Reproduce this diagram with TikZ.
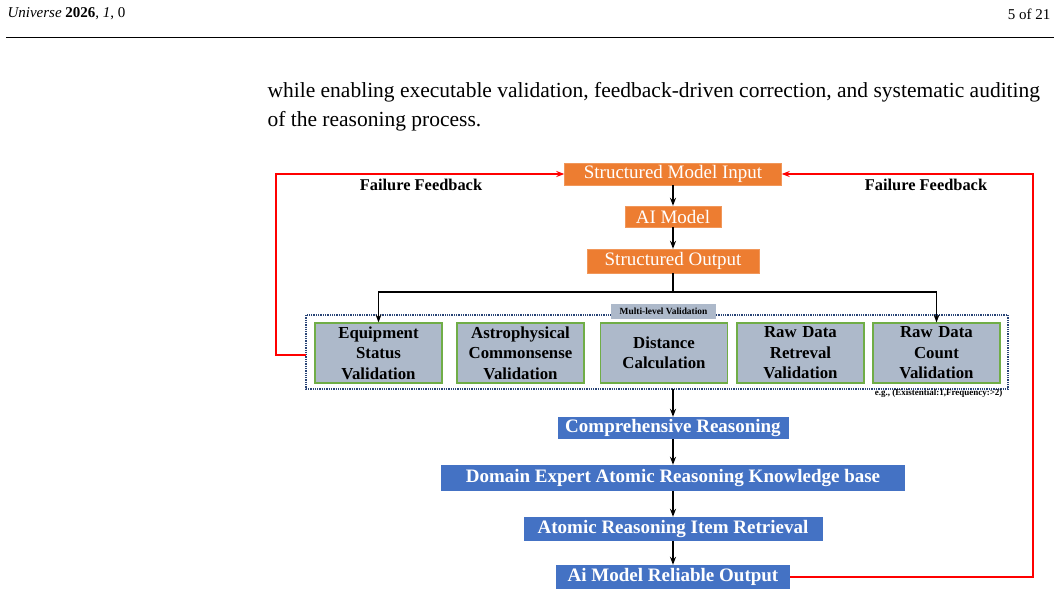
\documentclass[tikz,border=0pt]{standalone}
\usepackage{fontspec}
\setmainfont{Liberation Serif}
\usetikzlibrary{arrows.meta,positioning}

\definecolor{boxorange}{HTML}{ED7D31}
\definecolor{boxblue}{HTML}{4472C4}
\definecolor{boxgray}{HTML}{ADB9CA}
\definecolor{boxgreen}{HTML}{70AD47}

\tikzset{
  stage/.style={fill=boxorange, draw=boxorange!80!white, text=white, inner sep=0pt, font=\fontsize{19}{21}\selectfont},
  check/.style={fill=boxgray, draw=boxgreen, line width=1.2pt, text width=126pt, minimum width=127pt, minimum height=60pt, align=center, inner sep=0pt, font=\bfseries\fontsize{16.8}{20.5}\selectfont},
  reason/.style={fill=boxblue, text=white, inner sep=0pt, font=\bfseries\fontsize{19}{21}\selectfont},
  flow/.style={-{Stealth[length=8pt, width=6pt]}, line width=1.5pt},
  feedback/.style={-{Stealth[length=8pt, width=6pt]}, red, line width=1.5pt}
}

\begin{document}
\begin{tikzpicture}[x=1pt, y=-1pt]
\useasboundingbox (0,0) rectangle (1060,595);

% page header and text
\node[anchor=west, font=\fontsize{15}{17}\selectfont] (head) at (4,14) {\textit{Universe} \textbf{2026}, \textit{1}, 0};
\node[anchor=east, font=\fontsize{15}{17}\selectfont] (page) at (1054,14) {5 of 21};
\draw[line width=1pt] (6,37) -- (1054,37);
\node[anchor=west, font=\fontsize{21.5}{24}\selectfont] (line1) at (264,92) {while enabling executable validation, feedback-driven correction, and systematic auditing};
\node[anchor=west, font=\fontsize{21.5}{24}\selectfont] (line2) at (264,121) {of the reasoning process.};

% upper stages
\node[stage, minimum width=217pt, minimum height=22pt] (input) at (673,174) {Structured Model Input};
\node[stage, minimum width=96pt, minimum height=21pt] (model) at (673,216.5) {AI Model};
\node[stage, minimum width=172pt, minimum height=24pt] (output) at (673,261) {Structured Output};

% validation frame
\draw[densely dotted, line width=1.3pt, boxblue!60!black] (306,315) rectangle (1008,389);
\coordinate (frametop) at (673,389);
\node[fill=boxgray, minimum width=105pt, minimum height=15pt, inner sep=0pt, font=\bfseries\fontsize{9.4}{10}\selectfont] (multi) at (663.5,311) {Multi-level Validation};
\node[check] (equip) at (378.5,353) {Equipment\\Status\\Validation};
\node[check] (astro) at (520.5,353) {Astrophysical\\Commonsense\\Validation};
\node[check] (dist) at (664,353) {Distance\\Calculation};
\node[check] (raw1) at (800.5,353) {Raw Data\\Retreval\\Validation};
\node[check] (raw2) at (936.5,353) {Raw Data\\Count\\Validation};
\node[anchor=east, font=\bfseries\fontsize{9}{10}\selectfont] (eg) at (1006,393) {e.g., (Existential:1,Frequency:>2)};

% lower stages
\node[reason, minimum width=231pt, minimum height=22pt] (compre) at (673,428) {Comprehensive Reasoning};
\node[reason, minimum width=464pt, minimum height=26pt] (domain) at (673,478) {Domain Expert Atomic Reasoning Knowledge base};
\node[reason, minimum width=299pt, minimum height=24pt] (atomic) at (673,529) {Atomic Reasoning Item Retrieval};
\node[reason, minimum width=234pt, minimum height=24pt] (final) at (673,577) {Ai Model Reliable Output};

% flow arrows
\draw[flow] (input) -- (model);
\draw[flow] (model) -- (output);
\coordinate (split) at (673,292);
\draw[line width=1.5pt] (output) -- (split);
\draw[flow] (split) -| (equip.north);
\draw[flow] (split) -| (raw2.north);
\draw[flow] (frametop) -- (compre);
\draw[flow] (compre) -- (domain);
\draw[flow] (domain) -- (atomic);
\draw[flow] (atomic) -- (final);

% failure feedback loops
\coordinate (leftend) at (306,355);
\draw[feedback] (leftend) -- (276,355) |- (input.west);
\draw[feedback] (final.east) -- (1033,577) |- (input.east);
\node[font=\bfseries\fontsize{16.4}{18}\selectfont] (failL) at (421,185) {Failure Feedback};
\node[font=\bfseries\fontsize{16.4}{18}\selectfont] (failR) at (926,185) {Failure Feedback};
\end{tikzpicture}
\end{document}
